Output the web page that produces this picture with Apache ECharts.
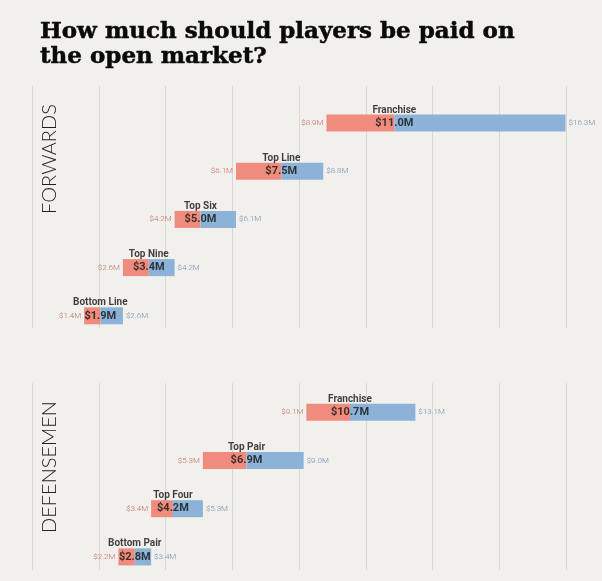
<!DOCTYPE html>
<html><head><meta charset="utf-8">
<script src="https://cdn.jsdelivr.net/npm/echarts@6/dist/echarts.min.js"></script>
<style>html,body{margin:0;padding:0;background:#f1f0ec}#c{width:602px;height:581px}</style>
</head><body><div id="c"></div>
<script>
// ---- data ----
const fwdCategories = ['Franchise', 'Top Line', 'Top Six', 'Top Nine', 'Bottom Line'];
const fwdLow  = [8.9, 6.1, 4.2, 2.6, 1.4];
const fwdMid  = [11.0, 7.5, 5.0, 3.4, 1.9];
const fwdHigh = [16.3, 8.8, 6.1, 4.2, 2.6];

const defCategories = ['Franchise', 'Top Pair', 'Top Four', 'Bottom Pair'];
const defLow  = [9.1, 5.3, 3.4, 2.2];
const defMid  = [10.7, 6.9, 4.2, 2.8];
const defHigh = [13.1, 9.0, 5.3, 3.4];

const panelTitles = ['FORWARDS', 'DEFENSEMEN'];
const titleText = 'How much should players be paid on\nthe open market?';

// ---- styles ----
const RED = '#f08c7d', BLUE = '#8cb3d7';
const RED_TXT = '#c26d62', BLUE_TXT = '#6d8fb3';
const fmt = v => '$' + v.toFixed(1) + 'M';
const SANS = 'Roboto';

function panelSeries(cats, low, mid, high, xi, yi, stack) {
  const diff = (a, b) => a.map((v, i) => +(v - b[i]).toFixed(2));
  return [
    { type: 'bar', xAxisIndex: xi, yAxisIndex: yi, stack, barWidth: 17, silent: true,
      itemStyle: { color: 'rgba(0,0,0,0)' }, data: low },
    { type: 'bar', xAxisIndex: xi, yAxisIndex: yi, stack, barWidth: 17, silent: true,
      itemStyle: { color: RED }, data: diff(mid, low),
      label: { show: true, position: 'left', distance: 3, color: RED_TXT, fontFamily: SANS,
        fontWeight: 300, fontSize: 8, formatter: p => fmt(low[p.dataIndex]) } },
    { type: 'bar', xAxisIndex: xi, yAxisIndex: yi, stack, barWidth: 17, silent: true,
      itemStyle: { color: BLUE }, data: diff(high, mid),
      label: { show: true, position: 'right', distance: 3, color: BLUE_TXT, fontFamily: SANS,
        fontWeight: 300, fontSize: 8, formatter: p => fmt(high[p.dataIndex]) } },
    { type: 'scatter', xAxisIndex: xi, yAxisIndex: yi, symbolSize: 1, z: 5, silent: true,
      itemStyle: { color: 'rgba(0,0,0,0)' },
      data: mid.map((v, i) => [v, cats[i]]),
      label: { show: true, position: 'inside', color: '#111', fontFamily: SANS,
        fontWeight: 'bold', fontSize: 11, formatter: p => fmt(mid[p.dataIndex]) } },
    { type: 'scatter', xAxisIndex: xi, yAxisIndex: yi, symbolSize: 1, z: 5, silent: true,
      itemStyle: { color: 'rgba(0,0,0,0)' },
      data: mid.map((v, i) => [v, cats[i]]),
      label: { show: true, position: 'inside', offset: [0, -13], color: '#111', fontFamily: SANS,
        fontWeight: 'bold', fontSize: 10, formatter: p => cats[p.dataIndex] } }
  ];
}

const frameX = gi => ({ type: 'value', gridIndex: gi, min: 0, max: 17, interval: 2,
  axisLine: { show: false }, axisTick: { show: false }, axisLabel: { show: false },
  splitLine: { show: true, showMaxLine: false, lineStyle: { color: '#d9d8d3', width: 1 } } });
const dataX = gi => ({ type: 'value', gridIndex: gi, min: 0, max: 17,
  axisLine: { show: false }, axisTick: { show: false }, axisLabel: { show: false },
  splitLine: { show: false } });
const frameY = gi => ({ type: 'value', gridIndex: gi, show: false, min: 0, max: 1, splitLine: { show: false } });
const dataY = (gi, cats) => ({ type: 'category', gridIndex: gi, data: cats, inverse: true,
  axisLine: { show: false }, axisTick: { show: false }, axisLabel: { show: false } });

const panelStyle = t => ({ text: t, fontFamily: 'Lato', fontWeight: 300, fontSize: 20,
  fill: '#222', align: 'center', verticalAlign: 'middle' });

const chart = echarts.init(document.getElementById('c'), null, { renderer: 'canvas' });
chart.setOption({
  backgroundColor: '#f1f0ec',
  animation: false,
  title: { text: titleText, left: 35, top: 15,
    textStyle: { fontFamily: 'DejaVu Serif', fontWeight: 'bold', fontSize: 23, lineHeight: 25, color: '#0a0a0a',
      textBorderColor: '#0a0a0a', textBorderWidth: 0.5 } },
  grid: [
    { left: 32.3, right: 2.7, top: 86, height: 242 },
    { left: 38.9, right: 13.8, top: 98.9, height: 241 },
    { left: 32.3, right: 2.7, top: 383, height: 187 },
    { left: 58.5, right: 80.4, top: 388.2, height: 192.8 }
  ],
  xAxis: [frameX(0), dataX(1), frameX(2), dataX(3)],
  yAxis: [frameY(0), dataY(1, fwdCategories), frameY(2), dataY(3, defCategories)],
  series: [
    ...panelSeries(fwdCategories, fwdLow, fwdMid, fwdHigh, 1, 1, 'fwd'),
    ...panelSeries(defCategories, defLow, defMid, defHigh, 3, 3, 'def')
  ],
  graphic: [
    { type: 'text', x: 50, y: 159, rotation: Math.PI / 2, style: panelStyle(panelTitles[0]) },
    { type: 'text', x: 50, y: 467, rotation: Math.PI / 2, style: panelStyle(panelTitles[1]) }
  ]
});
</script></body></html>
